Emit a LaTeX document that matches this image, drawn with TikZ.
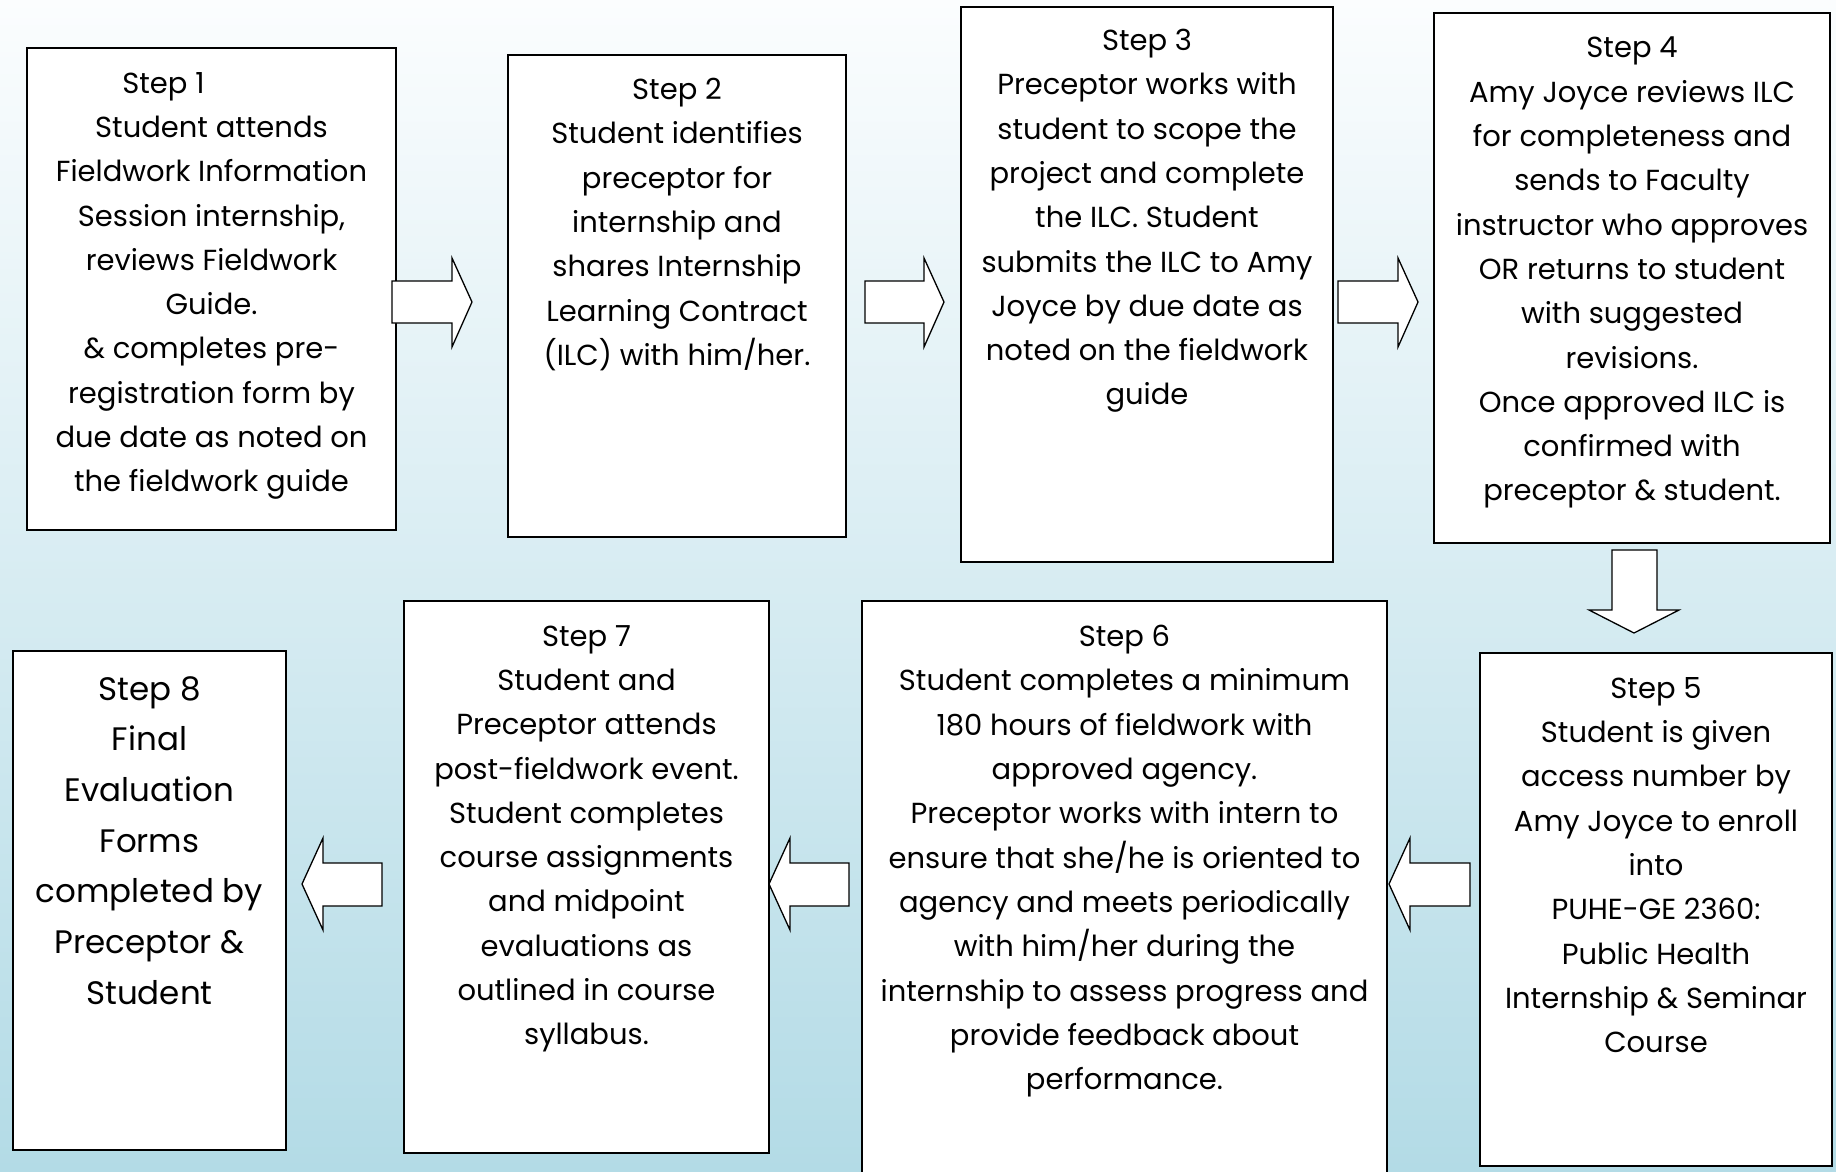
\documentclass[tikz,border=0pt]{standalone}
\usepackage{fontspec}
\setmainfont{Poppins}
\definecolor{topc}{HTML}{FBFDFE}
\definecolor{midc}{HTML}{D5EAF1}
\definecolor{botc}{HTML}{B3DBE6}
\begin{document}
\begin{tikzpicture}[x=1pt,y=-1pt,
  box/.style={draw=black,line width=2pt,fill=white,inner sep=0pt,anchor=north west},
  txt/.style={anchor=north,align=center,inner sep=0pt,font=\fontsize{29}{44.3}\selectfont},
  bigtxt/.style={anchor=north,align=center,inner sep=0pt,font=\fontsize{32.5}{50.7}\selectfont},
  blk/.style={draw=black,line width=1.3pt,fill=white,line join=miter}]
\useasboundingbox (0,0) rectangle (1836,1171);
\shade[top color=topc, middle color=midc, bottom color=botc] (0,0) rectangle (1836,1171);

% boxes
\node[box,minimum width=369pt,minimum height=482pt] (b1) at (26,47) {};
\node[box,minimum width=338pt,minimum height=482pt] (b2) at (507,54) {};
\node[box,minimum width=372pt,minimum height=555pt] (b3) at (960,6) {};
\node[box,minimum width=396pt,minimum height=530pt] (b4) at (1433,12) {};
\node[box,minimum width=352pt,minimum height=513pt] (b5) at (1479,652) {};
\node[box,minimum width=525pt,minimum height=590pt] (b6) at (861,600) {};
\node[box,minimum width=365pt,minimum height=552pt] (b7) at (403,600) {};
\node[box,minimum width=273pt,minimum height=499pt] (b8) at (12,650) {};

% texts
\node[txt] (t1) at (b1.north |- 0,72) {Step 1\rule{96pt}{0pt}\\Student attends\\Fieldwork Information\\Session internship,\\reviews Fieldwork\\Guide.\\\& completes pre-\\registration form by\\due date as noted on\\the fieldwork guide};
\node[txt] (t2) at (b2.north |- 0,78) {Step 2\\Student identifies\\preceptor for\\internship and\\shares Internship\\Learning Contract\\(ILC) with him/her.};
\node[txt] (t3) at (b3.north |- 0,29) {Step 3\\Preceptor works with\\student to scope the\\project and complete\\the ILC. Student\\submits the ILC to Amy\\Joyce by due date as\\noted on the fieldwork\\guide};
\node[txt] (t4) at (b4.north |- 0,37) {Step 4\\Amy Joyce reviews ILC\\for completeness and\\sends to Faculty\\instructor who approves\\OR returns to student\\with suggested\\revisions.\\Once approved ILC is\\confirmed with\\preceptor \& student.};
\node[txt] (t5) at (b5.north |- 0,677) {Step 5\\Student is given\\access number by\\Amy Joyce to enroll\\into\\PUHE-GE 2360:\\Public Health\\Internship \& Seminar\\Course};
\node[txt] (t6) at (b6.north |- 0,625) {Step 6\\Student completes a minimum\\180 hours of fieldwork with\\approved agency.\\Preceptor works with intern to\\ensure that she/he is oriented to\\agency and meets periodically\\with him/her during the\\internship to assess progress and\\provide feedback about\\performance.};
\node[txt] (t7) at (b7.north |- 0,625) {Step 7\\Student and\\Preceptor attends\\post-fieldwork event.\\Student completes\\course assignments\\and midpoint\\evaluations as\\outlined in course\\syllabus.};
\node[bigtxt] (t8) at (b8.north |- 0,676) {Step 8\\Final\\Evaluation\\Forms\\completed by\\Preceptor \&\\Student};

% block arrows right (y centre 302)
\draw[blk] (392,281) -- (452,281) -- (452,258) -- (472,302) -- (452,347) -- (452,323) -- (392,323) -- cycle;
\draw[blk] (865,281) -- (924,281) -- (924,258) -- (944,302) -- (924,347) -- (924,323) -- (865,323) -- cycle;
\draw[blk] (1338,281) -- (1398,281) -- (1398,258) -- (1418,302) -- (1398,347) -- (1398,323) -- (1338,323) -- cycle;
% block arrow down
\draw[blk] (1612,550) -- (1657,550) -- (1657,610) -- (1679,610) -- (1634,633) -- (1589,610) -- (1612,610) -- cycle;
% block arrows left (y centre 884)
\draw[blk] (1470,863) -- (1410,863) -- (1410,838) -- (1389,884) -- (1410,930) -- (1410,906) -- (1470,906) -- cycle;
\draw[blk] (849,863) -- (790,863) -- (790,838) -- (769,884) -- (790,930) -- (790,906) -- (849,906) -- cycle;
\draw[blk] (382,863) -- (323,863) -- (323,838) -- (302,884) -- (323,930) -- (323,906) -- (382,906) -- cycle;
\end{tikzpicture}
\end{document}
